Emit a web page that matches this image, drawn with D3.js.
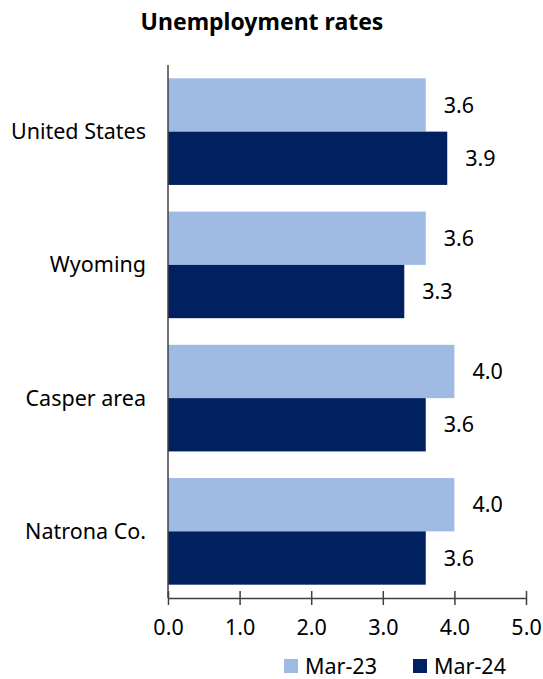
<!DOCTYPE html>
<html><head><meta charset="utf-8">
<script src="https://cdn.jsdelivr.net/npm/d3@7"></script>
<style>body{margin:0;background:#fff;} svg{display:block;} text{font-family:"Noto Sans",sans-serif;fill:#000;}</style>
</head><body>
<svg id="c" width="543" height="679"></svg>
<script>
const categories = ["United States","Wyoming","Casper area","Natrona Co."];
const seriesNames = ["Mar-23","Mar-24"];
const mar23 = [3.6,3.6,4.0,4.0];
const mar24 = [3.9,3.3,3.6,3.6];
const xTicks = [0,1,2,3,4,5];
const colors = ["#9FBBE3","#002060"];

(function(){
const svg = d3.select("#c");
const mLeft = 168, mRight = 526, mTop = 65, mBottom = 598;
const fs = "21.5px";
const x = d3.scaleLinear().domain([0,5]).range([mLeft,mRight]);
const y = d3.scaleBand().domain(categories).range([mTop,mBottom]).paddingInner(0.2).paddingOuter(0.1);
const ys = d3.scaleBand().domain(seriesNames).range([0,y.bandwidth()]);

svg.append("text").attr("x",262).attr("y",30).attr("text-anchor","middle")
  .style("font-size","23px").style("font-weight","bold").text("Unemployment rates");

const data = categories.map((c,i)=>({c, vals:[mar23[i],mar24[i]]}));
const g = svg.append("g");
data.forEach(d=>{
  d.vals.forEach((v,j)=>{
    const yy = y(d.c)+ys(seriesNames[j]);
    g.append("rect").attr("x",x(0)).attr("y",yy).attr("width",x(v)-x(0)).attr("height",ys.bandwidth())
      .attr("fill",colors[j]);
    g.append("text").attr("x",x(v)+18).attr("y",yy+ys.bandwidth()/2).attr("dy","0.35em")
      .style("font-size",fs).text(v.toFixed(1));
  });
  svg.append("text").attr("x",146).attr("y",y(d.c)+y.bandwidth()/2).attr("dy","0.35em")
    .attr("text-anchor","end").style("font-size",fs).text(d.c);
});

svg.append("line").attr("x1",mLeft).attr("x2",mLeft).attr("y1",mTop).attr("y2",mBottom)
  .attr("stroke","#404040").attr("stroke-width",1.5);
const xa = svg.append("g").attr("transform",`translate(0,${mBottom})`)
  .call(d3.axisBottom(x).tickValues(xTicks).tickFormat(d3.format(".1f")).tickSizeInner(7).tickSizeOuter(0).tickPadding(15));
xa.select(".domain").attr("stroke","#404040").attr("stroke-width",1.5);
xa.selectAll(".tick line").attr("stroke","#404040").attr("stroke-width",1.5).attr("y1",-7).attr("y2",7);
xa.selectAll(".tick text").style("font-size",fs).style("font-family","'Noto Sans',sans-serif").attr("fill","#000");

const leg = svg.append("g");
const lx = [284,413];
seriesNames.forEach((s,j)=>{
  leg.append("rect").attr("x",lx[j]).attr("y",659).attr("width",14).attr("height",14).attr("fill",colors[j]);
  leg.append("text").attr("x",lx[j]+21).attr("y",666).attr("dy","0.35em").style("font-size",fs).text(s);
});
})();
</script>
</body></html>
